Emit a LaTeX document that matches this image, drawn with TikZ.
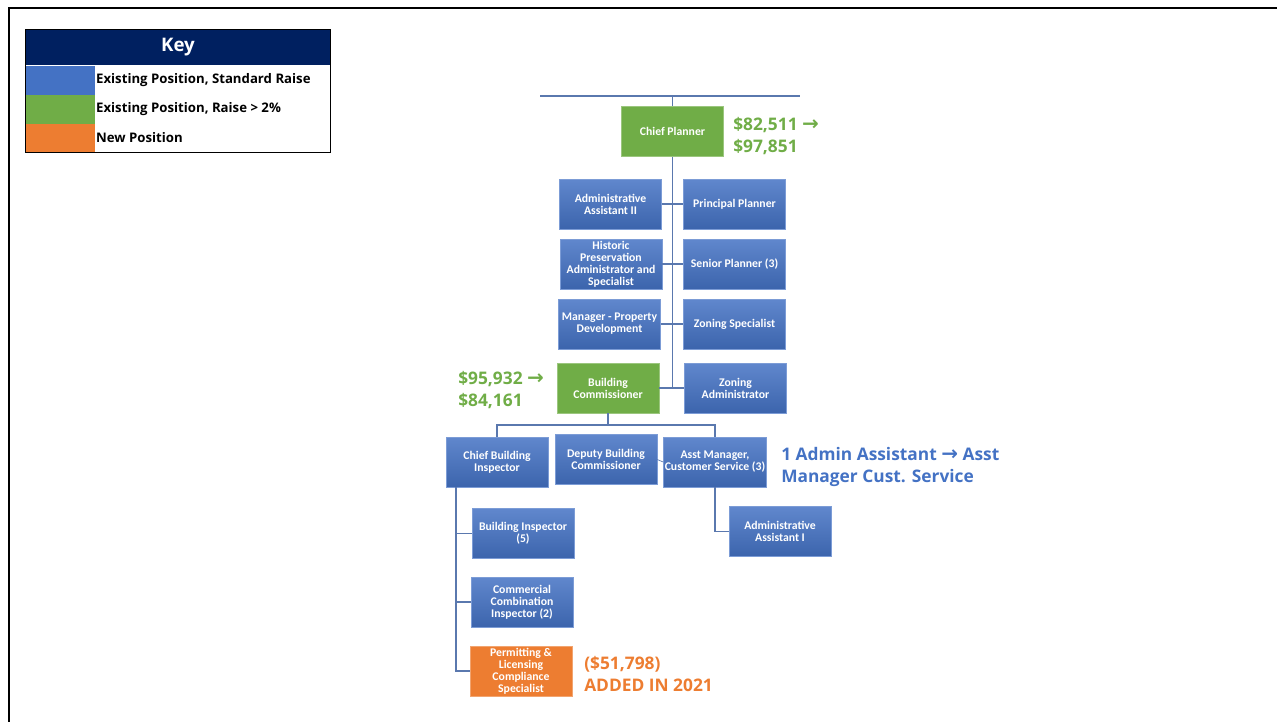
\documentclass[tikz,border=0pt]{standalone}
\usepackage{fontspec}
\setmainfont{Carlito}
\newfontfamily\notefont{Open Sans}
\newfontfamily\arrowfont{DejaVu Sans}
\usepackage{xcolor}
\definecolor{PosBlue}{HTML}{4472C4}
\definecolor{PosGreen}{HTML}{70AD47}
\definecolor{PosOrange}{HTML}{ED7D31}
\definecolor{KeyNavy}{HTML}{002060}
\definecolor{LinkBlue}{HTML}{5A78AE}
\usepackage{tikz}
\usetikzlibrary{positioning}
\newcommand\BoxW{76.5pt}
\newcommand\BoxH{37.5pt}
\newcommand\SwW{51.75pt}
\newcommand\SwH{21.75pt}
\tikzstyle{post}=[rectangle,text=white,align=center,inner sep=1pt,
                  font=\bfseries\fontsize{8.8}{9.1}\selectfont,
                  minimum width=\BoxW,minimum height=\BoxH,line width=0.4pt]
\tikzstyle{std}=[post,draw=PosBlue!70!white,top color=PosBlue!85!white,bottom color=PosBlue!88!black]
\tikzstyle{raise}=[post,draw=PosGreen!70!white,fill=PosGreen]
\tikzstyle{newpos}=[post,draw=PosOrange!70!white,fill=PosOrange]
\tikzstyle{link}=[draw=LinkBlue,line width=1.1pt]
\tikzstyle{note}=[anchor=base west,align=left,inner sep=0pt,
                  font=\notefont\bfseries\fontsize{13}{16.5}\selectfont]
\tikzstyle{swatch}=[rectangle,inner sep=0pt,minimum width=\SwW,minimum height=\SwH]
\tikzstyle{keytext}=[anchor=west,inner sep=0pt,font=\notefont\bfseries\fontsize{9.9}{11}\selectfont]
\newcommand\Arr{{\arrowfont\bfseries\fontsize{15}{16}\selectfont →}}

\begin{document}
\begin{tikzpicture}[x=0.75pt,y=-0.75pt]
      \useasboundingbox (0,0) rectangle (1277,722);
      \coordinate (frameTL) at (9,8);
      \coordinate (frameTR) at (1277,8);
      \coordinate (frameBL) at (9,722);
      \draw[line width=2.2pt] (frameTR) -- (frameTL) -- (frameBL);

      % key
      \node[rectangle,fill=KeyNavy,text=white,minimum width=228pt,minimum height=26.25pt,
            font=\notefont\bfseries\fontsize{14}{16}\selectfont] (keyttl) at (178,47.5) {Key};
      \node[swatch,fill=PosBlue] (swblue) at (60.5,80) {};
      \node[swatch,fill=PosGreen] (swgreen) at (60.5,109) {};
      \node[swatch,fill=PosOrange] (sworange) at (60.5,138) {};
      \node[keytext,right=0.5pt of swblue] (kblue) {Existing Position, Standard Raise};
      \node[keytext,right=0.5pt of swgreen] (kgreen) {Existing Position, Raise > 2\%};
      \node[keytext,right=0.5pt of sworange] (korange) {New Position};
      \coordinate (keyend) at (330,152);
      \draw[line width=0.6pt] (keyttl.north west) rectangle (keyend);

      % planning
      \node[raise] (cp) at (672.5,131.5) {Chief Planner};
      \node[std] (aa2) at (610.5,204) {Administrative\\Assistant II};
      \node[std] (pp) at (734.5,204) {Principal Planner};
      \node[std] (hp) at (611,264) {Historic\\Preservation\\Administrator and\\Specialist};
      \node[std] (sp) at (734.5,264) {Senior Planner (3)};
      \node[std] (mpd) at (609.5,324) {Manager - Property\\Development};
      \node[std] (zs) at (734.5,324) {Zoning Specialist};
      \node[raise] (bc) at (608,388) {Building\\Commissioner};
      \node[std] (za) at (735.5,388) {Zoning\\Administrator};

      % building
      \node[std] (cbi) at (497,462) {Chief Building\\Inspector};
      \node[std] (dbc) at (606,459.5) {Deputy Building\\Commissioner};
      \node[std] (am) at (715,462) {Asst Manager,\\Customer Service (3)};
      \node[std] (bi) at (523,533.5) {Building Inspector\\(5)};
      \node[std] (cci) at (522,602) {Commercial\\Combination\\Inspector (2)};
      \node[newpos] (pls) at (521,671) {Permitting \&\\Licensing\\Compliance\\Specialist};
      \node[std] (aa1) at (780,531.5) {Administrative\\Assistant I};

      \coordinate (topL) at (540,96);
      \coordinate (topR) at (800,96);
      \coordinate (bus) at (608,425);
      \coordinate (spine) at (456,487);
      \draw[link] (topL) -- (topR);
      \draw[link] (cp.north) -- (cp.north |- topL);
      \draw[link] (cp.south) -- (cp.south |- bc.east);
      \draw[link] (aa2.east) -- (pp.west);
      \draw[link] (hp.east) -- (sp.west);
      \draw[link] (mpd.east) -- (zs.west);
      \draw[link] (bc.east) -- (za.west);
      \draw[link] (bc.south) -- (bus);
      \draw[link] (cbi.north) |- (bus) -| (am.north);
      \draw[link,line width=0.5pt] (dbc.east) -- (am.west);
      \draw[link] (spine) |- (pls.west);
      \draw[link] (spine |- bi.west) -- (bi.west);
      \draw[link] (spine |- cci.west) -- (cci.west);
      \draw[link] (am.south) |- (aa1.west);

      % notes
      \node[note,text=PosGreen] (cpnote) at (733,152) {\$82,511 \Arr\\\$97,851};
      \node[note,text=PosGreen] (bcnote) at (458,406) {\$95,932 \Arr\\\$84,161};
      \node[note,text=PosBlue] (amnote) at (781,482) {1 Admin Assistant \Arr{} Asst\\Manager Cust. Service};
      \node[note,text=PosOrange] (plsnote) at (584,691) {(\$51,798)\\ADDED IN 2021};
   \end{tikzpicture}
\end{document}
